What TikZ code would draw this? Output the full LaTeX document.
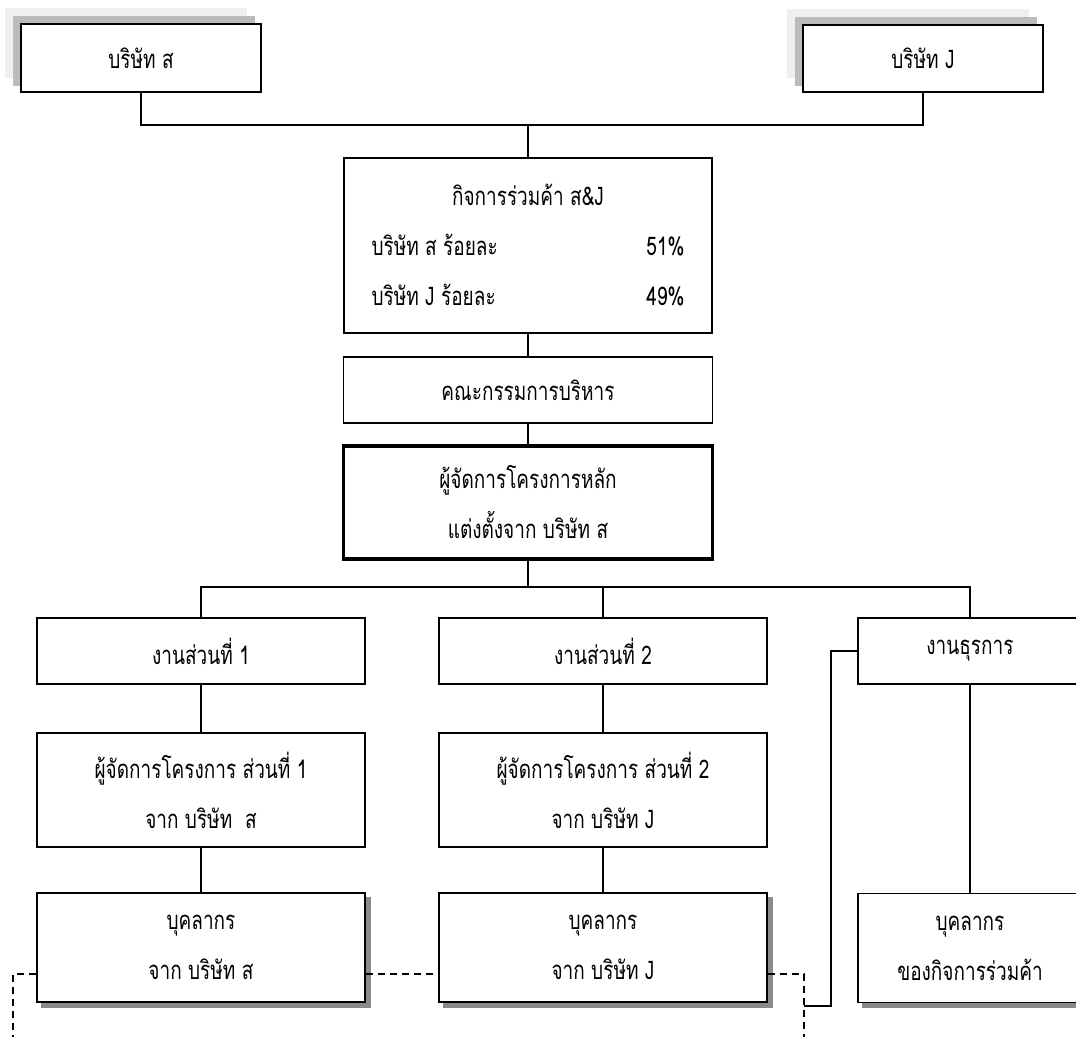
\documentclass[tikz,border=0pt]{standalone}
\usepackage{graphicx}
\usepackage{fontspec}
\newfontfamily\thai[Script=Thai]{Loma}
\usetikzlibrary{calc,backgrounds}
\definecolor{shadelight}{HTML}{EFEFEF}
\definecolor{shadedark}{HTML}{BBBBBB}
\definecolor{dropgray}{HTML}{8A8A8A}
% tall, narrow setting of one line of text
\newcommand\tallline[1]{\scalebox{1}[1.35]{#1}}
\begin{document}
\begin{tikzpicture}[x=1pt,y=-1pt,
  box/.style={draw=black,line width=1.3pt,fill=white,rectangle,inner sep=0pt,
    align=center,font=\thai\fontsize{19}{50}\selectfont},
  thickbox/.style={box,line width=3.2pt},
  link/.style={draw=black,line width=1.2pt},
  dashlink/.style={draw=black,line width=1.2pt,dash pattern=on 7pt off 5pt}]
\useasboundingbox (0,0) rectangle (1076,1037);

% owners
\node[box,minimum width=240pt,minimum height=68pt] (sA) at (141,58) {\tallline{บริษัท ส}};
\node[box,minimum width=240pt,minimum height=67pt] (sJ) at (923,58.5) {\tallline{บริษัท J}};

% joint venture and its management
\node[box,minimum width=368pt,minimum height=175pt] (jv) at (528,245.5)
  {\tallline{กิจการร่วมค้า ส\&J}\\
   \tallline{\makebox[313pt]{บริษัท ส ร้อยละ\hfill 51\%}}\\
   \tallline{\makebox[313pt]{บริษัท J ร้อยละ\hfill 49\%}}};
\node[box,minimum width=369pt,minimum height=66pt] (board) at (528,390) {\tallline{คณะกรรมการบริหาร}};
\node[thickbox,minimum width=369pt,minimum height=113pt] (pm) at (528,502.5)
  {\tallline{ผู้จัดการโครงการหลัก}\\ \tallline{แต่งตั้งจาก บริษัท ส}};

% work sections
\node[box,minimum width=328pt,minimum height=66pt] (w1) at (201,651) {\tallline{งานส่วนที่ 1}};
\node[box,minimum width=328pt,minimum height=66pt] (w2) at (603,651) {\tallline{งานส่วนที่ 2}};
\node[box,minimum width=224pt,minimum height=66pt] (w3) at (970,651) {\tallline{งานธุรการ}};

\node[box,minimum width=328pt,minimum height=114pt] (m1) at (201,790)
  {\tallline{ผู้จัดการโครงการ ส่วนที่ 1}\\ \tallline{จาก บริษัท\ \ ส}};
\node[box,minimum width=328pt,minimum height=114pt] (m2) at (603,790)
  {\tallline{ผู้จัดการโครงการ ส่วนที่ 2}\\ \tallline{จาก บริษัท J}};

\node[box,minimum width=328pt,minimum height=109pt] (s1) at (201,947.5)
  {\tallline{บุคลากร}\\ \tallline{จาก บริษัท ส}};
\node[box,minimum width=328pt,minimum height=109pt] (s2) at (603,947.5)
  {\tallline{บุคลากร}\\ \tallline{จาก บริษัท J}};
\node[box,minimum width=224pt,minimum height=109pt] (s3) at (970,948)
  {\tallline{บุคลากร}\\ \tallline{ของกิจการร่วมค้า}};

% shadows
\begin{scope}[on background layer]
  \foreach \n in {sA,sJ}{
    \fill[shadelight] ($(\n.north west)+(-15,-15)$) rectangle ($(\n.south east)+(-15,-15)$);
    \fill[shadedark] ($(\n.north west)+(-7,-7)$) rectangle ($(\n.south east)+(-7,-7)$);
  }
  \foreach \n in {s1,s2,s3}{
    \fill[dropgray] ($(\n.north west)+(5,5)$) rectangle ($(\n.south east)+(5,5)$);
  }
\end{scope}

% connectors
\coordinate (topbus) at (528,125);
\coordinate (midbus) at (528,587);
\draw[link] (sA.south) |- (topbus) -| (sJ.south);
\draw[link] (topbus) -- (jv.north);
\draw[link] (jv.south) -- (board.north);
\draw[link] (board.south) -- (pm.north);
\draw[link] (pm.south) -- (midbus);
\draw[link] (w1.north) |- (midbus) -| (w3.north);
\draw[link] (w2.north) -- (w2.north |- midbus);
\draw[link] (w1.south) -- (m1.north);
\draw[link] (m1.south) -- (s1.north);
\draw[link] (w2.south) -- (m2.north);
\draw[link] (m2.south) -- (s2.north);
\draw[link] (w3.south) -- (s3.north);

% staff links
\coordinate (dashrow) at (0,974);
\coordinate (dL) at (13,1037);
\coordinate (dR) at (804,1037);
\coordinate (bend) at (831,1006);
\coordinate (joint) at (804,1006);
\draw[dashlink] (s1.west |- dashrow) -| (dL);
\draw[dashlink] (s1.east |- dashrow) -- (s2.west |- dashrow);
\draw[dashlink] (s2.east |- dashrow) -| (dR);
\draw[link] (w3.west) -| (bend) -- (joint);
\end{tikzpicture}
\end{document}
